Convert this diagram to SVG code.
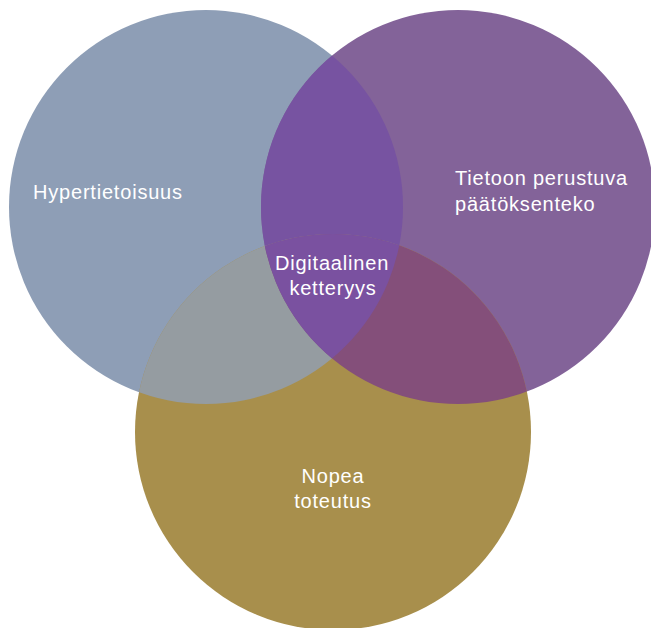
<svg xmlns="http://www.w3.org/2000/svg" width="651" height="628" viewBox="0 0 651 628">
  <style>
    .lbl { font-family: "Liberation Sans", Arial, sans-serif; font-size: 20px; letter-spacing: 0.8px; fill: #FFFFFF; }
    .mid { text-anchor: middle; }
  </style>
  <defs>
    <clipPath id="clipLeft"><circle cx="206" cy="207" r="197"/></clipPath>
    <clipPath id="clipRight"><circle cx="458" cy="207" r="197"/></clipPath>
    <clipPath id="clipBottom"><circle cx="333" cy="432" r="198"/></clipPath>
  </defs>
  <rect width="651" height="628" fill="#FFFFFF"/>

  <!-- base circles -->
  <g id="hypertietoisuus">
    <circle cx="206" cy="207" r="197" fill="#8E9EB6"/>
  </g>
  <g id="tietoon-perustuva-paatoksenteko">
    <circle cx="458" cy="207" r="197" fill="#836399"/>
  </g>
  <g id="nopea-toteutus">
    <circle cx="333" cy="432" r="198" fill="#A88F4C"/>
  </g>

  <!-- pairwise overlaps -->
  <g id="overlaps">
    <circle cx="458" cy="207" r="197" fill="#7753A1" clip-path="url(#clipLeft)"/>
    <circle cx="333" cy="432" r="198" fill="#959CA1" clip-path="url(#clipLeft)"/>
    <circle cx="333" cy="432" r="198" fill="#844F7A" clip-path="url(#clipRight)"/>
    <g clip-path="url(#clipLeft)">
      <circle cx="333" cy="432" r="198" fill="#7A51A0" clip-path="url(#clipRight)"/>
    </g>
  </g>

  <!-- labels -->
  <g id="labels">
    <text class="lbl" x="33" y="199">Hypertietoisuus</text>
    <text class="lbl" x="455" y="185">Tietoon perustuva</text>
    <text class="lbl" x="455" y="211">päätöksenteko</text>
    <text class="lbl mid" x="332" y="270">Digitaalinen</text>
    <text class="lbl mid" x="333" y="295">ketteryys</text>
    <text class="lbl mid" x="333" y="483">Nopea</text>
    <text class="lbl mid" x="333" y="508">toteutus</text>
  </g>
</svg>
